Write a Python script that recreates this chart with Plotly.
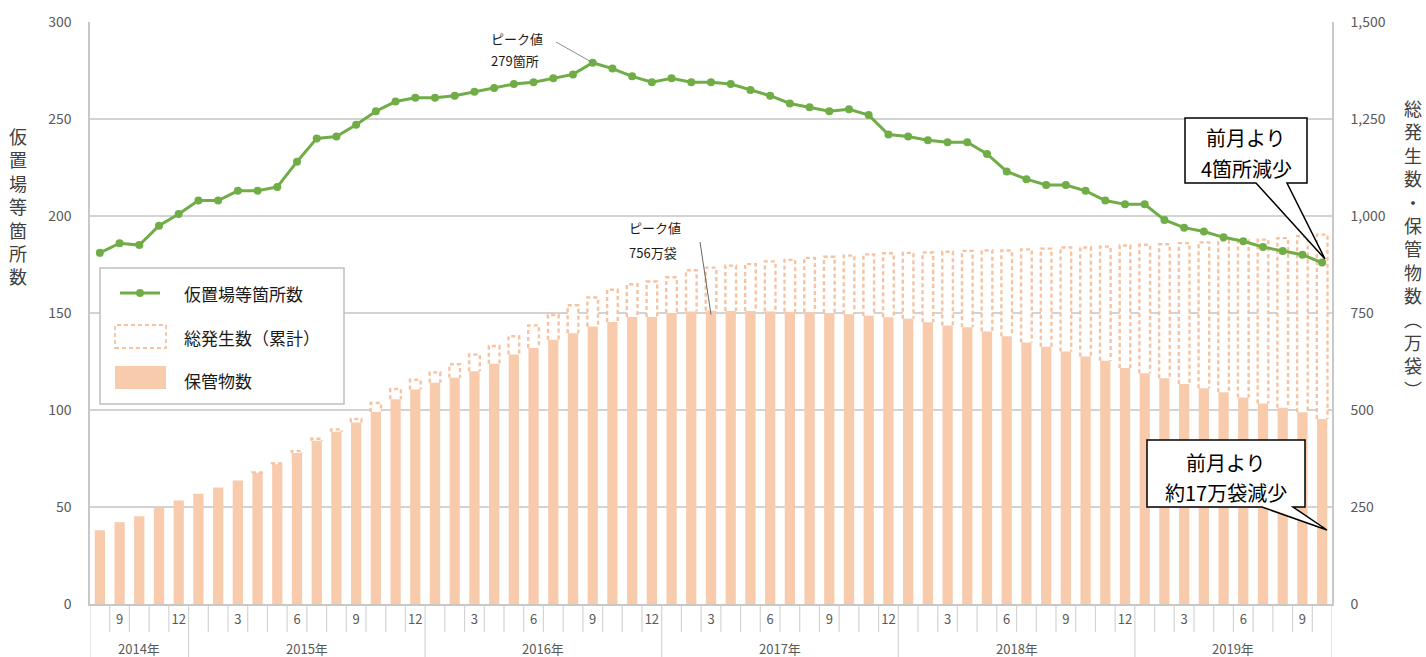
import plotly.graph_objects as go
import pandas as pd

# ---------------- data ----------------
months = pd.period_range("2014-08", "2019-10", freq="M")
month_nums = [p.month for p in months]
years = [p.year for p in months]

# 仮置場等箇所数 (left axis)
sites = [181, 186, 185, 195, 201, 208, 208, 213, 213, 215,
         228, 240, 241, 247, 254, 259, 261, 261, 262, 264,
         266, 268, 269, 271, 273, 279, 276, 272, 269, 271,
         269, 269, 268, 265, 262, 258, 256, 254, 255, 252,
         242, 241, 239, 238, 238, 232, 223, 219, 216, 216,
         213, 208, 206, 206, 198, 194, 192, 189, 187, 184,
         182, 180, 176]

# 保管物数 (万袋, right axis)
stored = [190, 211, 226, 248, 267, 284, 300, 318, 338, 360,
          389, 421, 444, 468, 495, 528, 553, 570, 583, 600,
          619, 643, 660, 681, 698, 715, 727, 740, 740, 750,
          754, 756, 755, 755, 754, 753, 752, 750, 747, 743,
          739, 735, 726, 718, 713, 702, 690, 674, 663, 651,
          638, 627, 608, 595, 582, 567, 556, 546, 532, 517,
          506, 494, 477]

# 総発生数(累計) (万袋, right axis)
total = [190, 211, 226, 248, 267, 284, 300, 318, 339, 362,
         394, 426, 450, 477, 518, 554, 578, 597, 618, 643,
         665, 690, 718, 745, 770, 790, 810, 824, 831, 842,
         860, 867, 872, 876, 883, 887, 892, 895, 898, 901,
         904, 905, 906, 908, 910, 911, 911, 914, 916, 919,
         919, 921, 924, 926, 927, 930, 932, 936, 938, 939,
         943, 948, 952]

left_ticks = [0, 50, 100, 150, 200, 250, 300]
right_ticks = [0, 250, 500, 750, 1000, 1250, 1500]

# ---------------- style ----------------
PEACH = "#F8CBAD"
DASH_C = "#F6C2A0"
GREEN = "#70AD47"
GRID = "#c4c4c4"
AXIS = "#c8c8c8"
TXT = "#595959"
DARK = "#1a1a1a"
FONT = "Noto Sans CJK JP"

W, H = 1426, 657
L, R, T, B = 90, 1332, 22, 604
N = len(months)


def px(xp):
    return (xp - L) / (R - L)


def py(yp):
    return (B - yp) / (B - T)


def px2x(xp):
    return (xp - L) / ((R - L) / N) - 0.5


idx = list(range(N))
BAR_W = 0.52
HW = 0.27

fig = go.Figure()

# white body of the cumulative bars (hides gridlines inside the dashed box)
fig.add_trace(go.Bar(x=idx, y=[t - s for t, s in zip(total, stored)], base=stored,
                     width=BAR_W, marker=dict(color="white", line=dict(width=0)),
                     yaxis="y", hoverinfo="skip", name="総発生数（累計）"))
# stored (solid)
fig.add_trace(go.Bar(x=idx, y=stored, width=BAR_W,
                     marker=dict(color=PEACH, line=dict(width=0)),
                     yaxis="y", name="保管物数"))
# dashed outline of cumulative bars
ox, oy = [], []
for i, s, t in zip(idx, stored, total):
    if t - s >= 1:
        ox += [i - HW, i - HW, i + HW, i + HW, None]
        oy += [s, t, t, s, None]
fig.add_trace(go.Scatter(x=ox, y=oy, mode="lines",
                         line=dict(color=DASH_C, width=2.4, dash="4px,3px"),
                         yaxis="y", hoverinfo="skip", name="総発生数（累計）"))
# sites line
fig.add_trace(go.Scatter(x=idx, y=sites, mode="lines+markers",
                         line=dict(color=GREEN, width=3),
                         marker=dict(size=8, color=GREEN),
                         yaxis="y2", name="仮置場等箇所数"))

shapes = []
# horizontal gridlines (right-axis scale == left-axis scale)
for v in right_ticks[1:-1]:
    shapes.append(dict(type="line", xref="paper", yref="y", x0=0, x1=1, y0=v, y1=v,
                       line=dict(color=GRID, width=1.3), layer="below"))

# month separators below the axis, year separators longer
for k in range(N + 1):
    xb = k - 0.5
    is_year = (k == 0) or (k == N) or (month_nums[k] == 1)
    shapes.append(dict(type="line", xref="x", yref="paper", x0=xb, x1=xb,
                       y0=0, y1=py(657) if is_year else py(632),
                       line=dict(color="#d4d4d4", width=1.2), layer="below"))

# tick labels on x (every 3rd month)
tickvals = [i for i in idx if month_nums[i] % 3 == 0]
ticktext = [str(month_nums[i]) for i in tickvals]

annotations = []


def ann(x, y, text, size, color, xanchor="center", xref="paper", yref="paper"):
    annotations.append(dict(xref=xref, yref=yref, x=x, y=y, text=text, showarrow=False,
                            xanchor=xanchor, yanchor="middle",
                            font=dict(size=size, color=color, family=FONT)))


# year labels
for yv in sorted(set(years)):
    ii = [i for i in idx if years[i] == yv]
    ann((ii[0] + ii[-1]) / 2, py(648), f"{yv}年", 13, TXT, xref="x")

# axis titles (vertical)
left_title = "仮置場等箇所数"
right_title = "総発生数・保管物数︵万袋︶"
ann(px(18), py(206), "<br>".join(left_title), 18, "#404040")
ann(px(1413), py(249), "<br>".join(right_title), 18, "#404040")

# peak annotations
i_peak_site = sites.index(max(sites))
i_peak_store = stored.index(max(stored))
ann(px(489), py(38), "ピーク値", 13, DARK, xanchor="left")
ann(px(489), py(61), f"{max(sites)}箇所", 13, DARK, xanchor="left")
ann(px(627), py(228), "ピーク値", 13, DARK, xanchor="left")
ann(px(627), py(252), f"{max(stored)}万袋", 13, DARK, xanchor="left")

shapes.append(dict(type="line", xref="x", yref="y2",
                   x0=px2x(556), y0=(B - 42) / ((B - T) / 300),
                   x1=i_peak_site, y1=max(sites),
                   line=dict(color="#7f7f7f", width=0.9), layer="above"))
shapes.append(dict(type="line", xref="x", yref="y",
                   x0=px2x(700), y0=(B - 242) / ((B - T) / 1500),
                   x1=i_peak_store, y1=max(stored) - 10,
                   line=dict(color="#555555", width=0.9), layer="above"))


def callout(x0, y0, x1, y1, ta, tb, tip):
    p = (f"M {px(x0)},{py(y0)} L {px(x1)},{py(y0)} L {px(x1)},{py(y1)} "
         f"L {px(tb)},{py(y1)} L {px(tip[0])},{py(tip[1])} L {px(ta)},{py(y1)} "
         f"L {px(x0)},{py(y1)} Z")
    return dict(type="path", xref="paper", yref="paper", path=p,
                fillcolor="white", line=dict(color="black", width=1.5), layer="above")


shapes.append(callout(1185, 118, 1307, 183, 1256, 1287, (1325, 259)))
shapes.append(callout(1147, 440, 1305, 507, 1262, 1293, (1327, 530)))
d_sites = sites[-2] - sites[-1]
d_store = stored[-2] - stored[-1]
ann(px(1246), py(137), "前月より", 20, "black")
ann(px(1246), py(168), f"{d_sites}箇所減少", 20, "black")
ann(px(1226), py(462), "前月より", 20, "black")
ann(px(1226), py(492), f"約{d_store}万袋減少", 20, "black")

# legend (drawn manually)
shapes.append(dict(type="rect", xref="paper", yref="paper", x0=px(100), x1=px(344),
                   y0=py(404), y1=py(268), fillcolor="white",
                   line=dict(color="#bfbfbf", width=1.5), layer="above"))
shapes.append(dict(type="line", xref="paper", yref="paper", x0=px(120), x1=px(160),
                   y0=py(293), y1=py(293), line=dict(color=GREEN, width=3), layer="above"))
shapes.append(dict(type="circle", xref="paper", yref="paper", x0=px(136), x1=px(144),
                   y0=py(297), y1=py(289), fillcolor=GREEN, line=dict(color=GREEN, width=0),
                   layer="above"))
shapes.append(dict(type="rect", xref="paper", yref="paper", x0=px(115), x1=px(166),
                   y0=py(348), y1=py(325), fillcolor="white",
                   line=dict(color=DASH_C, width=1.8, dash="4px,3px"), layer="above"))
shapes.append(dict(type="rect", xref="paper", yref="paper", x0=px(115), x1=px(166),
                   y0=py(389), y1=py(366), fillcolor=PEACH,
                   line=dict(color=PEACH, width=0), layer="above"))
ann(px(182), py(293), "仮置場等箇所数", 17, DARK, xanchor="left")
ann(px(182), py(337), "総発生数（累計）", 17, DARK, xanchor="left")
ann(px(182), py(380), "保管物数", 17, DARK, xanchor="left")

fig.update_layout(
    width=W, height=H,
    margin=dict(l=L, r=W - R, t=T, b=H - B, pad=0),
    paper_bgcolor="white", plot_bgcolor="white",
    showlegend=False, barmode="overlay",
    font=dict(family=FONT, color=TXT),
    xaxis=dict(range=[-0.5, N - 0.5], tickvals=tickvals, ticktext=ticktext,
               showgrid=False, zeroline=False, showline=True, linecolor=AXIS, linewidth=2,
               ticks="", tickfont=dict(size=13, color=TXT, family=FONT), ticklabelstandoff=2),
    yaxis=dict(range=[0, 1500], side="right", tickvals=right_ticks, tickformat=",d",
               showgrid=False, zeroline=False, showline=True, linecolor=AXIS, linewidth=1.5,
               ticks="", tickfont=dict(size=14, color=TXT, family=FONT), ticklabelstandoff=14),
    yaxis2=dict(range=[0, 300], side="left", overlaying="y", tickvals=left_ticks,
                showgrid=False, zeroline=False, showline=True, linecolor=AXIS, linewidth=1.5,
                ticks="", tickfont=dict(size=14, color=TXT, family=FONT), ticklabelstandoff=14),
    shapes=shapes, annotations=annotations,
)

fig.write_html("out.html", config={"displayModeBar": False},
               post_script="document.body.style.margin='0';")
